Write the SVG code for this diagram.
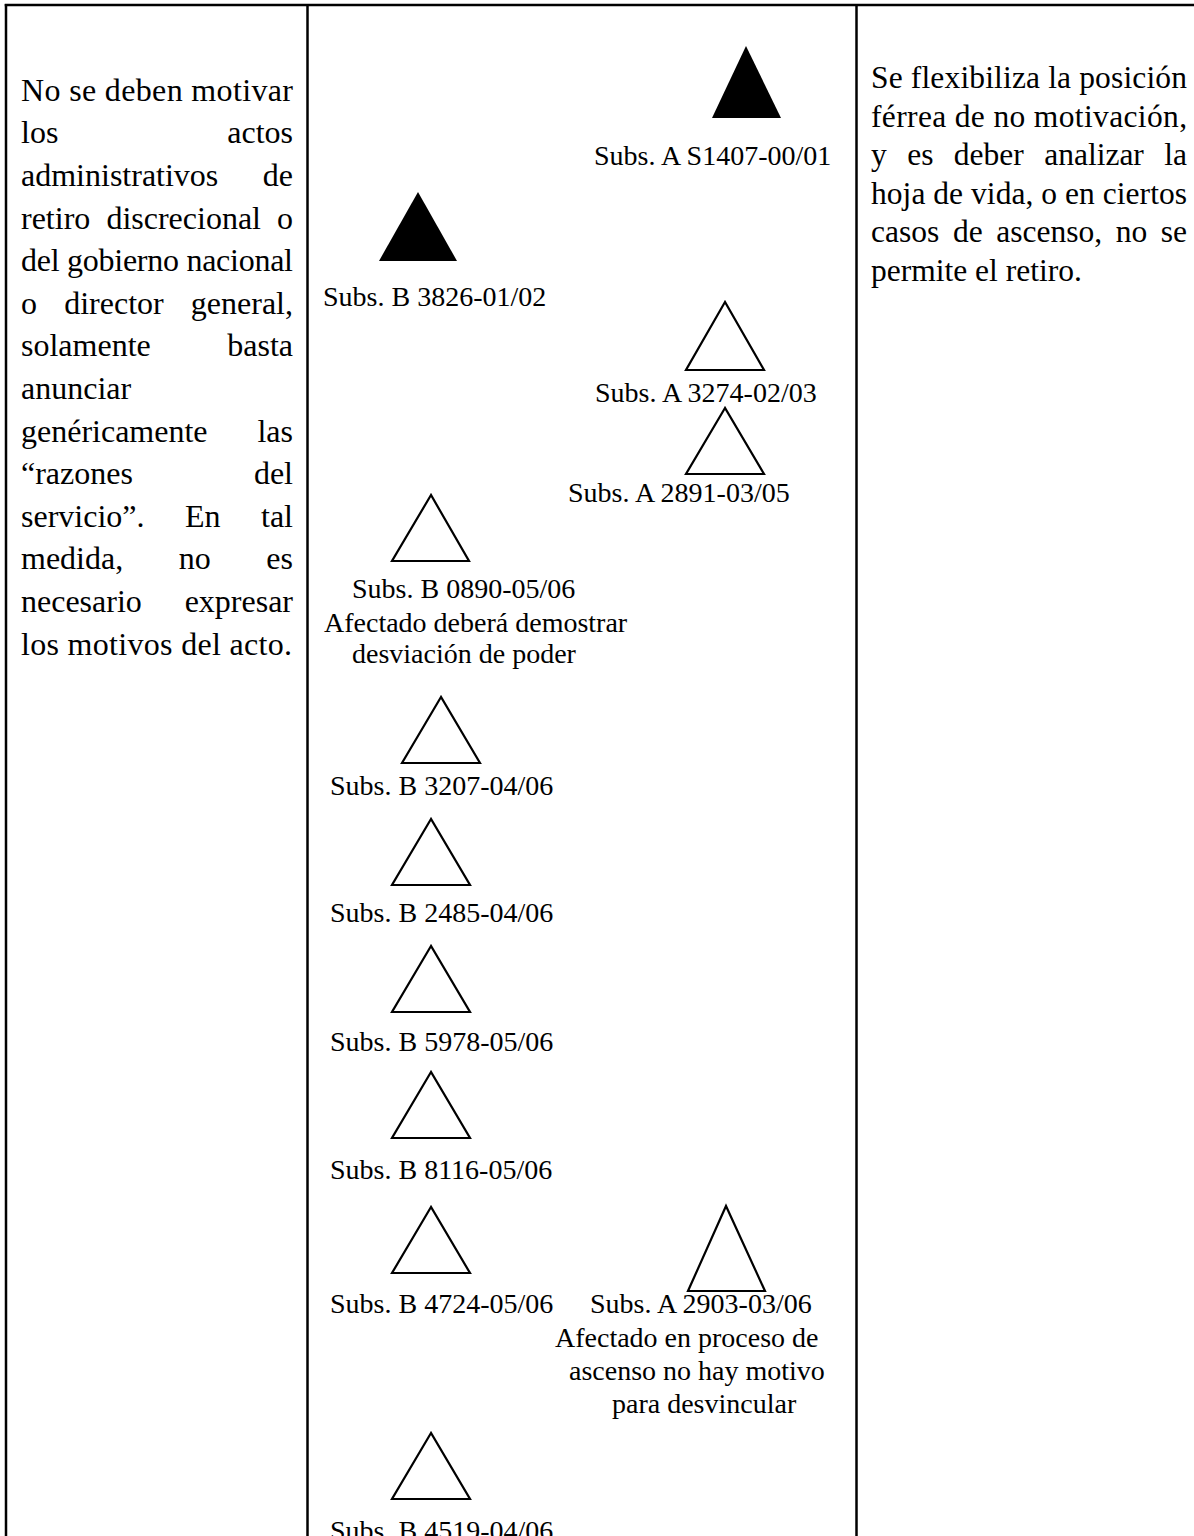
<svg xmlns="http://www.w3.org/2000/svg" width="1194" height="1536" viewBox="0 0 1194 1536">
<style>
.frame{stroke:#000;stroke-width:2.5;fill:none}
.lt{font-family:"Liberation Serif","Times New Roman",serif;font-size:32px;fill:#000}
.rt{font-family:"Liberation Serif","Times New Roman",serif;font-size:31.5px;fill:#000}
.lb{font-family:"Liberation Serif","Times New Roman",serif;font-size:28px;fill:#000}
.end{text-anchor:end}
.fill{fill:#000;stroke:none}
.open{fill:none;stroke:#000;stroke-width:2.2;stroke-linejoin:miter}
</style>
<rect width="1194" height="1536" fill="#fff"/>
<g id="table">
<line class="frame" x1="4.75" y1="5" x2="1194" y2="5"/>
<line class="frame" x1="6" y1="4" x2="6" y2="1536"/>
<line class="frame" x1="307.5" y1="5" x2="307.5" y2="1536"/>
<line class="frame" x1="856.5" y1="5" x2="856.5" y2="1536"/>
</g>
<g id="left-text" class="lt">
<text x="21" y="100.7" textLength="272" lengthAdjust="spacing">No se deben motivar</text>
<text x="21" y="143.3">los</text><text class="end" x="293" y="143.3">actos</text>
<text x="21" y="185.9">administrativos</text><text class="end" x="293" y="185.9">de</text>
<text x="21" y="228.5">retiro</text><text x="106.4" y="228.5">discrecional</text><text class="end" x="293" y="228.5">o</text>
<text x="21" y="271.1" textLength="272" lengthAdjust="spacing">del gobierno nacional</text>
<text x="21" y="313.7">o</text><text x="64.2" y="313.7">director</text><text class="end" x="293" y="313.7">general,</text>
<text x="21" y="356.3">solamente</text><text class="end" x="293" y="356.3">basta</text>
<text x="21" y="398.9">anunciar</text>
<text x="21" y="441.5">genéricamente</text><text class="end" x="293" y="441.5">las</text>
<text x="21" y="484.1">“razones</text><text class="end" x="293" y="484.1">del</text>
<text x="21" y="526.7">servicio”.</text><text x="185" y="526.7">En</text><text class="end" x="293" y="526.7">tal</text>
<text x="21" y="569.3">medida,</text><text x="178.8" y="569.3">no</text><text class="end" x="293" y="569.3">es</text>
<text x="21" y="611.9">necesario</text><text class="end" x="293" y="611.9">expresar</text>
<text x="21" y="654.5" textLength="271" lengthAdjust="spacing">los motivos del acto.</text>
</g>
<g id="right-text" class="rt">
<text x="871" y="88" textLength="316" lengthAdjust="spacing">Se flexibiliza la posición</text>
<text x="871" y="126.6" textLength="316" lengthAdjust="spacing">férrea de no motivación,</text>
<text x="871" y="165.2">y</text><text x="907.2" y="165.2">es</text><text x="953.8" y="165.2">deber</text><text x="1044.2" y="165.2">analizar</text><text class="end" x="1187" y="165.2">la</text>
<text x="871" y="203.8" textLength="316" lengthAdjust="spacing">hoja de vida, o en ciertos</text>
<text x="871" y="242.4">casos</text><text x="952.9" y="242.4">de</text><text x="996.2" y="242.4">ascenso,</text><text x="1115.7" y="242.4">no</text><text class="end" x="1187" y="242.4">se</text>
<text x="871" y="281">permite el retiro.</text>
</g>
<g id="n-A-S1407"><polygon class="fill" points="746,46 712,118 781,118"/><text class="lb" x="594" y="165">Subs. A S1407-00/01</text></g>
<g id="n-B-3826"><polygon class="fill" points="418,192 379,261 457,261"/><text class="lb" x="323" y="306">Subs. B 3826-01/02</text></g>
<g id="n-A-3274"><polygon class="open" points="725,302 686,370 764,370"/><text class="lb" x="595" y="402">Subs. A 3274-02/03</text></g>
<g id="n-A-2891"><polygon class="open" points="725,408 686,474 764,474"/><text class="lb" x="568" y="502">Subs. A 2891-03/05</text></g>
<g id="n-B-0890"><polygon class="open" points="431,495 392,561 469,561"/><text class="lb" x="352" y="598">Subs. B 0890-05/06</text><text class="lb" x="324" y="632">Afectado deberá demostrar</text><text class="lb" x="352" y="663">desviación de poder</text></g>
<g id="n-B-3207"><polygon class="open" points="441,697 402,763 480,763"/><text class="lb" x="330" y="795">Subs. B 3207-04/06</text></g>
<g id="n-B-2485"><polygon class="open" points="431,819 392,885 470,885"/><text class="lb" x="330" y="922">Subs. B 2485-04/06</text></g>
<g id="n-B-5978"><polygon class="open" points="431,946 392,1012 470,1012"/><text class="lb" x="330" y="1051">Subs. B 5978-05/06</text></g>
<g id="n-B-8116"><polygon class="open" points="431,1072 392,1138 470,1138"/><text class="lb" x="330" y="1179">Subs. B 8116-05/06</text></g>
<g id="n-B-4724"><polygon class="open" points="431,1207 392,1273 470,1273"/><text class="lb" x="330" y="1313">Subs. B 4724-05/06</text></g>
<g id="n-A-2903"><polygon class="open" points="726,1206 688,1291 765,1291"/><text class="lb" x="590" y="1313">Subs. A 2903-03/06</text><text class="lb" x="555" y="1347">Afectado en proceso de</text><text class="lb" x="569" y="1380">ascenso no hay motivo</text><text class="lb" x="612" y="1413">para desvincular</text></g>
<g id="n-B-4519"><polygon class="open" points="431,1433 392,1499 470,1499"/><text class="lb" x="330" y="1540">Subs. B 4519-04/06</text></g>
<g id="connectors"/>
</svg>
